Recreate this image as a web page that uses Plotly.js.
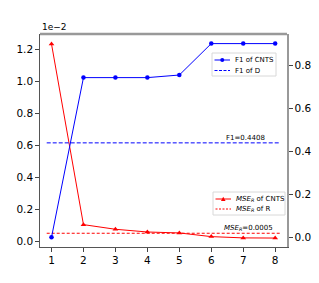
<!DOCTYPE html>
<html><head><meta charset="utf-8">
<script src="https://cdn.plot.ly/plotly-3.0.1.min.js"></script>
<style>html,body{margin:0;padding:0;background:#fff}</style>
</head><body><div id="chart" style="width:319px;height:283px"></div>
<script>
const xVals = [1, 2, 3, 4, 5, 6, 7, 8];
const mseCNTS = [1.235, 0.104, 0.075, 0.058, 0.052, 0.029, 0.021, 0.020]; // x1e-2
const mseR = 0.05; // x1e-2 (0.0005)
const f1CNTS = [0.002, 0.744, 0.744, 0.744, 0.756, 0.902, 0.902, 0.902];
const f1D = 0.4408;
const hlineX = [0.85, 8.15];
const legendTop = ['F1 of CNTS', 'F1 of D'];
const legendBottom = ['<i>MSE<sub>R</sub></i> of CNTS', '<i>MSE<sub>R</sub></i> of R'];

const M = {l: 40, r: 32, t: 34, b: 36};
const W = 319, H = 283;
const PW = W - M.l - M.r, PH = H - M.t - M.b;
const px = X => (X - M.l) / PW;
const py = Y => (H - M.b - Y) / PH;

const font = {family: 'DejaVu Sans', size: 10.5, color: '#000'};
const RED = '#ff0000', BLUE = '#0000ff';
const traces = [
  {x: xVals, y: mseCNTS, type: 'scatter', mode: 'lines+markers', name: legendBottom[0],
   line: {color: RED, width: 1}, marker: {symbol: 'triangle-up', size: 5, color: RED}, yaxis: 'y'},
  {x: hlineX, y: [mseR, mseR], type: 'scatter', mode: 'lines', name: legendBottom[1],
   line: {color: RED, width: 1, dash: '3px,2px'}, yaxis: 'y'},
  {x: xVals, y: f1CNTS, type: 'scatter', mode: 'lines+markers', name: legendTop[0],
   line: {color: BLUE, width: 1}, marker: {symbol: 'circle', size: 4.5, color: BLUE}, yaxis: 'y2'},
  {x: hlineX, y: [f1D, f1D], type: 'scatter', mode: 'lines', name: legendTop[1],
   line: {color: BLUE, width: 1, dash: '4px,2px'}, yaxis: 'y2'}
];

const shapes = [
  {type: 'line', xref: 'paper', yref: 'paper', x0: 0, x1: 1, y0: 1, y1: 1, line: {color: '#999', width: 2.5}}
];
const annotations = [
  {xref: 'paper', yref: 'paper', x: 0, y: 1, xanchor: 'left', yanchor: 'bottom',
   text: '1e\u22122', showarrow: false, font: {family: 'DejaVu Sans', size: 9, color: '#000'}},
  {xref: 'x', yref: 'y2', x: 7.75, y: f1D, xanchor: 'right', yanchor: 'bottom', yshift: -1,
   text: 'F1=' + f1D.toFixed(4), showarrow: false, font: {family: 'DejaVu Sans', size: 7, color: '#000'}},
  {xref: 'x', yref: 'y', x: 8.0, y: mseR, xanchor: 'right', yanchor: 'bottom', yshift: -1,
   text: '<i>MSE<sub>R</sub></i>=' + (mseR / 100).toFixed(4), showarrow: false,
   font: {family: 'DejaVu Sans', size: 7, color: '#000'}}
];

function addLegend(x0, y0, x1, y1, rows, color, markerSym) {
  shapes.push({type: 'rect', xref: 'paper', yref: 'paper', x0: px(x0), x1: px(x1), y0: py(y1), y1: py(y0),
    line: {color: '#d8d8d8', width: 1}, fillcolor: 'rgba(255,255,255,0.85)', layer: 'above'});
  rows.forEach((r, i) => {
    shapes.push({type: 'line', xref: 'paper', yref: 'paper', x0: px(x0 + 2.5), x1: px(x0 + 18), y0: py(r.y), y1: py(r.y),
      line: {color: color, width: 1, dash: i === 0 ? 'solid' : (markerSym === 'tri' ? '2px,1.5px' : '3px,1.5px')}, layer: 'above'});
    if (i === 0) {
      const cx = x0 + 10.25, cy = r.y;
      if (markerSym === 'circle') {
        shapes.push({type: 'circle', xref: 'paper', yref: 'paper', x0: px(cx - 2), x1: px(cx + 2), y0: py(cy + 2), y1: py(cy - 2),
          fillcolor: color, line: {color: color, width: 0}, layer: 'above'});
      } else {
        const p = (X, Y) => px(X) + ',' + py(Y);
        shapes.push({type: 'path', xref: 'paper', yref: 'paper',
          path: 'M' + p(cx - 2.3, cy + 2) + ' L' + p(cx + 2.3, cy + 2) + ' L' + p(cx, cy - 2.3) + ' Z',
          fillcolor: color, line: {color: color, width: 0}, layer: 'above'});
      }
    }
    annotations.push({xref: 'paper', yref: 'paper', x: px(x0 + 21), y: py(r.y), xanchor: 'left', yanchor: 'middle',
      text: r.text, showarrow: false, font: {family: 'DejaVu Sans', size: 7, color: '#000'}});
  });
}
addLegend(212, 53, 276, 76, [{y: 60, text: legendTop[0]}, {y: 70.5, text: legendTop[1]}], BLUE, 'circle');
addLegend(213, 192, 285, 215, [{y: 199, text: legendBottom[0]}, {y: 209, text: legendBottom[1]}], RED, 'tri');

const layout = {
  width: W, height: H, margin: M,
  paper_bgcolor: '#fff', plot_bgcolor: '#fff',
  showlegend: false, font: font,
  xaxis: {range: [0.64, 8.37], tickvals: xVals, ticks: 'outside', ticklen: 3.5, tickcolor: '#444',
    showgrid: false, zeroline: false, showline: true, linecolor: '#555', linewidth: 1.3, tickfont: font},
  yaxis: {range: [-0.036, 1.2975], tickvals: [0, 0.2, 0.4, 0.6, 0.8, 1.0, 1.2], tickformat: '.1f',
    ticks: 'outside', ticklen: 3.5, tickcolor: '#444', showgrid: false, zeroline: false,
    showline: true, linecolor: '#555', linewidth: 1.3, tickfont: font},
  yaxis2: {range: [-0.043, 0.9466], overlaying: 'y', side: 'right', tickvals: [0, 0.2, 0.4, 0.6, 0.8],
    tickformat: '.1f', ticks: 'outside', ticklen: 3.5, tickcolor: '#444', showgrid: false, zeroline: false,
    showline: true, linecolor: '#999', linewidth: 2, tickfont: font},
  shapes: shapes,
  annotations: annotations
};
Plotly.newPlot('chart', traces, layout, {displayModeBar: false, staticPlot: true});
</script></body></html>
